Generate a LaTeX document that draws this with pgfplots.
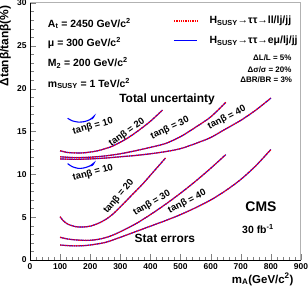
\documentclass[border=0pt]{standalone}
\usepackage{pgfplots}
\pgfplotsset{compat=1.18}
\usepackage{fontspec}
\setmainfont{Liberation Sans}

\begin{document}
\begin{tikzpicture}
\useasboundingbox (-30bp,-29bp) rectangle (278bp,260bp);
\begin{axis}[
 scale only axis, width=271bp, height=257bp,
 xmin=0, xmax=900, ymin=0, ymax=30,
 xtick distance=100, ytick distance=5,
 minor x tick num=4, minor y tick num=4,
 xtick pos=bottom, ytick pos=left, tick align=inside,
 major tick length=6bp, minor tick length=3.5bp,
 axis x line*=bottom, axis y line*=left,
 tick label style={font=\bfseries\fontsize{8.5}{10}\selectfont},
 /pgf/number format/assume math mode=true,
 clip=false,
 every axis plot/.append style={smooth, tension=0.5},
]
% frame top/right
\draw[gray!60, line width=1bp] (rel axis cs:0,1) -- (rel axis cs:1,1) -- (rel axis cs:1,0);

\pgfplotsset{bl/.style={blue, line width=1.1bp}, rd/.style={red, densely dotted, line width=1.3bp}}
% ---------- blue solid (e mu / lj / jj) ----------
% Total uncertainty
\addplot[bl] coordinates {(125,16.55)(140,16.25)(160,16.1)(180,16.15)(200,16.4)(213,16.8)(207,16.5)(199,16.45)};
\addplot[bl] coordinates {(100,12.75)(125,12.55)(150,12.5)(175,12.5)(200,12.6)(225,12.75)(250,13.0)(275,13.3)(300,13.75)(325,14.25)(350,14.85)(375,15.5)(400,16.2)(425,17.0)(440,17.5)};
\addplot[bl] coordinates {(100,12.05)(150,11.95)(200,12.0)(250,12.15)(300,12.4)(350,12.75)(400,13.15)(450,13.6)(500,14.4)(550,15.5)(600,16.7)(650,18.4)};
\addplot[bl] coordinates {(100,11.8)(150,11.75)(200,11.8)(250,11.9)(300,12.05)(350,12.2)(400,12.4)(450,12.65)(500,13.0)(550,13.6)(600,14.3)(650,15.3)(700,16.3)(750,17.5)(800,18.9)};
% Stat errors
\addplot[bl] coordinates {(125,11.25)(140,10.9)(160,10.7)(180,10.75)(200,11.0)(213,11.35)(207,11.05)(199,11.0)};
\addplot[bl] coordinates {(100,5.05)(110,4.6)(125,4.2)(150,3.9)(175,3.85)(200,3.95)(225,4.25)(250,4.7)(275,5.35)(300,6.2)(325,7.1)(350,8.0)(375,8.9)(400,9.9)(425,10.9)(450,11.9)};
\addplot[bl] coordinates {(100,2.65)(125,2.45)(150,2.35)(175,2.3)(200,2.3)(225,2.4)(250,2.6)(275,2.9)(300,3.3)(350,4.2)(400,5.3)(450,6.5)(500,7.8)(550,9.2)(600,10.7)(650,12.3)};
\addplot[bl] coordinates {(100,1.75)(125,1.68)(150,1.65)(175,1.67)(200,1.75)(250,2.05)(300,2.65)(350,3.3)(400,3.95)(450,4.6)(500,5.3)(550,6.1)(600,7.0)(650,8.1)(700,9.4)(750,11.0)(800,12.9)};

% ---------- red dotted (ll / lj / jj) ----------
\addplot[rd] coordinates {(100,12.75)(125,12.55)(150,12.5)(175,12.5)(200,12.6)(225,12.75)(250,13.0)(275,13.3)(300,13.75)(325,14.25)(350,14.85)(375,15.5)(400,16.2)(425,17.0)(440,17.5)};
\addplot[rd] coordinates {(100,12.05)(150,11.95)(200,12.0)(250,12.15)(300,12.4)(350,12.75)(400,13.15)(450,13.6)(500,14.4)(550,15.5)(600,16.7)(650,18.4)};
\addplot[rd] coordinates {(100,11.8)(150,11.75)(200,11.8)(250,11.9)(300,12.05)(350,12.2)(400,12.4)(450,12.65)(500,13.0)(550,13.6)(600,14.3)(650,15.3)(700,16.3)(750,17.5)(800,18.9)};
\addplot[rd] coordinates {(100,5.05)(110,4.6)(125,4.2)(150,3.9)(175,3.85)(200,3.95)(225,4.25)(250,4.7)(275,5.35)(300,6.2)(325,7.1)(350,8.0)(375,8.9)(400,9.9)(425,10.9)(450,11.9)};
\addplot[rd] coordinates {(100,2.65)(125,2.45)(150,2.35)(175,2.3)(200,2.3)(225,2.4)(250,2.6)(275,2.9)(300,3.3)(350,4.2)(400,5.3)(450,6.5)(500,7.8)(550,9.2)(600,10.7)(650,12.3)};
\addplot[rd] coordinates {(100,1.75)(125,1.68)(150,1.65)(175,1.67)(200,1.75)(250,2.05)(300,2.65)(350,3.3)(400,3.95)(450,4.6)(500,5.3)(550,6.1)(600,7.0)(650,8.1)(700,9.4)(750,11.0)(800,12.9)};

% ---------- texts ----------
\begin{scope}[font=\bfseries\fontsize{10.5}{12}\selectfont]
\node[anchor=west] at (axis cs:48,27.6) {A\textsubscript{t} = 2450 GeV/c\textsuperscript{2}};
\node[anchor=west] at (axis cs:48,25.3) {μ = 300 GeV/c\textsuperscript{2}};
\node[anchor=west] at (axis cs:48,23.0) {M\textsubscript{2} = 200 GeV/c\textsuperscript{2}};
\node[anchor=west] at (axis cs:48,20.6) {m\textsubscript{SUSY} = 1 TeV/c\textsuperscript{2}};
\end{scope}

% legend
\draw[red, densely dotted, line width=1.3bp] (axis cs:478,27.9) -- (axis cs:555,27.9);
\draw[blue, line width=1.1bp] (axis cs:478,25.6) -- (axis cs:555,25.6);
\begin{scope}[font=\bfseries\fontsize{10.5}{12}\selectfont]
\node[anchor=west] at (axis cs:585,27.9) {H\textsubscript{SUSY}→ττ→ll/lj/jj};
\node[anchor=west] at (axis cs:585,25.6) {H\textsubscript{SUSY}→ττ→eμ/lj/jj};
\end{scope}
\begin{scope}[font=\bfseries\fontsize{8}{9}\selectfont]
\node[anchor=east] at (axis cs:880,23.6) {ΔL/L = 5\%};
\node[anchor=east] at (axis cs:880,22.2) {Δσ/σ = 20\%};
\node[anchor=east] at (axis cs:882,21.0) {ΔBR/BR = 3\%};
\end{scope}

\node[font=\bfseries\fontsize{12}{14}\selectfont] at (axis cs:455,18.8) {Total uncertainty};
\node[font=\bfseries\fontsize{12}{14}\selectfont] at (axis cs:448,2.5) {Stat errors};
\node[font=\bfseries\fontsize{14}{16}\selectfont] at (axis cs:767,6.2) {CMS};
\node[font=\bfseries\fontsize{10.5}{12}\selectfont] at (axis cs:757,3.6) {30 fb\textsuperscript{-1}};

\begin{scope}[font=\bfseries\fontsize{9.5}{11}\selectfont]
\node[rotate=15] at (axis cs:209,15.6) {tanβ = 10};
\node[rotate=35] at (axis cs:322,14.9) {tanβ = 20};
\node[rotate=25] at (axis cs:465,15.4) {tanβ = 30};
\node[rotate=27] at (axis cs:654,16.6) {tanβ = 40};
\node[rotate=15] at (axis cs:209,10.15) {tanβ = 10};
\node[rotate=50] at (axis cs:295,7.4) {tanβ = 20};
\node[rotate=30] at (axis cs:405,6.65) {tanβ = 30};
\node[rotate=27] at (axis cs:522,6.8) {tanβ = 40};
\end{scope}

% axis labels
\node[rotate=90, anchor=south east, font=\bfseries\fontsize{12}{14}\selectfont] at ([xshift=-15.5bp,yshift=1bp]rel axis cs:0,1) {Δtanβ/tanβ(\%)};
\node[anchor=base east, font=\bfseries\fontsize{11.5}{13}\selectfont] at ([xshift=-4bp,yshift=-23bp]rel axis cs:1,0) {m\textsubscript{A}(GeV/c\textsuperscript{2})};
\end{axis}
\end{tikzpicture}
\end{document}
